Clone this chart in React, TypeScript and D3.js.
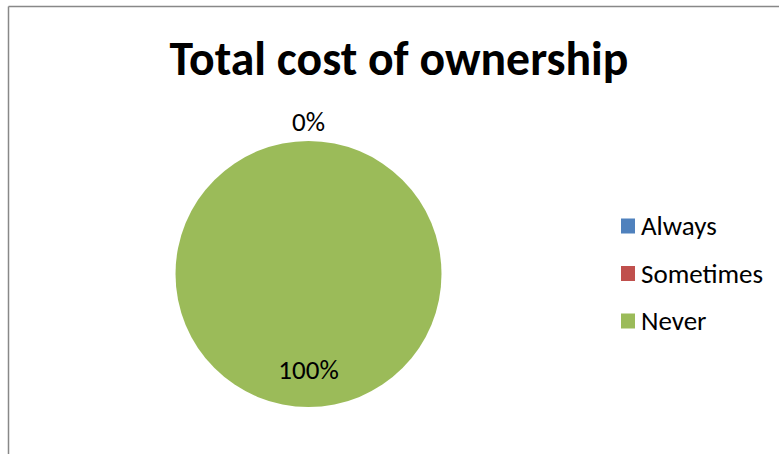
import React from "react";
import * as d3 from "d3";

const categories = ["Always", "Sometimes", "Never"];
const values = [0, 0, 100];
const colors = ["#4F81BD", "#C0504D", "#9BBB59"];
const title = "Total cost of ownership";

export default function App() {
  const W = 779, H = 454;
  const cx = 308.5, cy = 274, r = 133;
  const total = d3.sum(values);
  const pie = d3.pie<number>().sort(null).value((d) => d)(values);
  const arc = d3.arc<d3.PieArcDatum<number>>().innerRadius(0).outerRadius(r);
  const font = "Carlito, Calibri, Lato, 'Open Sans', sans-serif";
  const fmt = (v: number) => `${Math.round((v / total) * 100)}%`;
  const shown = new Set<string>();
  return (
    <svg width={W} height={H} style={{ position: "absolute", left: 0, top: 0 }}>
      <rect x={0} y={0} width={W} height={H} fill="#fff" />
      <line x1={8.5} y1={6.5} x2={W} y2={6.5} stroke="#888" strokeWidth={1.5} />
      <line x1={8.5} y1={6.5} x2={8.5} y2={H} stroke="#888" strokeWidth={1.5} />
      <text x={399} y={75} textAnchor="middle" fontFamily={font} fontWeight="bold" fontSize={47.7}>
        {title}
      </text>
      <g transform={`translate(${cx},${cy})`}>
        {pie.map((d, i) => (
          <path key={i} d={arc(d) || ""} fill={colors[i]} />
        ))}
        {pie.map((d, i) => {
          const mid = (d.startAngle + d.endAngle) / 2;
          const zero = d.value === 0;
          const rr = zero ? r + 19 : r * 0.72;
          const x = Math.sin(mid) * rr;
          const y = -Math.cos(mid) * rr;
          const key = `${Math.round(x)},${Math.round(y)}`;
          if (shown.has(key)) return null;
          shown.add(key);
          return (
            <text key={i} x={x} y={y} dy="0.35em" textAnchor="middle" fontFamily={font} fontSize={27} fill="#000">
              {fmt(d.value)}
            </text>
          );
        })}
      </g>
      {categories.map((c, i) => (
        <g key={c} transform={`translate(621,${226 + i * 47.5})`}>
          <rect x={0} y={-7.5} width={14} height={15} fill={colors[i]} />
          <text x={20} y={0} dy="0.35em" fontFamily={font} fontSize={27} fill="#000">
            {c}
          </text>
        </g>
      ))}
    </svg>
  );
}
